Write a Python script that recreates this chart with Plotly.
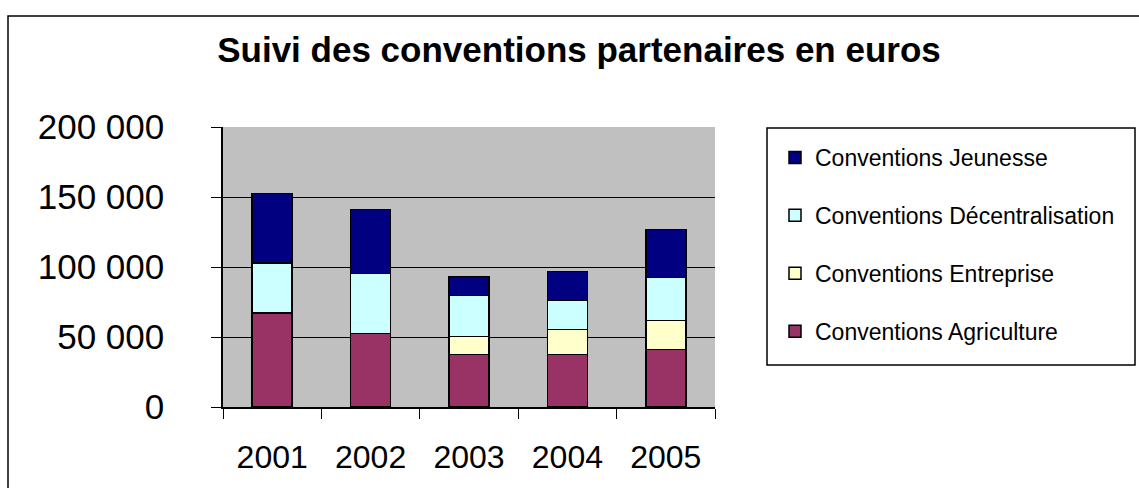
import plotly.graph_objects as go

years = ["2001", "2002", "2003", "2004", "2005"]
agriculture = [67100, 52600, 37400, 37400, 41200]
entreprise = [0, 0, 12800, 18100, 20700]
decentralisation = [35800, 42600, 29600, 20500, 30500]
jeunesse = [49500, 45800, 13500, 20700, 34300]
y_ticks = [0, 50000, 100000, 150000, 200000]
y_tick_labels = ["0", "50 000", "100 000", "150 000", "200 000"]

W, H = 1139, 488
L, R, T, B = 223, 1139 - 715, 127, 488 - 407
PW, PH = W - L - R, H - T - B

def px(x):
    return (x - L) / PW

def py(y):
    return (H - B - y) / PH

FONT = "Liberation Sans, Arial, sans-serif"
series = [
    ("Conventions Agriculture", agriculture, "#993366", 4),
    ("Conventions Entreprise", entreprise, "#FFFFCC", 3),
    ("Conventions Décentralisation", decentralisation, "#CCFFFF", 2),
    ("Conventions Jeunesse", jeunesse, "#000080", 1),
]

fig = go.Figure()
for name, vals, col, rank in series:
    fig.add_trace(go.Bar(
        x=years, y=vals, name=name, legendgroup=name, legendrank=rank,
        marker=dict(color=col, line=dict(color="black", width=1.5)),
    ))

fig.update_layout(
    width=W, height=H,
    barmode="stack", bargap=0.593,
    margin=dict(l=L, r=R, t=T, b=B),
    paper_bgcolor="white", plot_bgcolor="#C0C0C0",
    font=dict(family=FONT, color="black"),
    title=dict(text="<b>Suivi des conventions partenaires en euros</b>",
               x=579 / W, xanchor="center", xref="container",
               y=1 - 50 / H, yanchor="middle", yref="container",
               font=dict(size=35, family=FONT, color="black")),
    showlegend=True,
    legend=dict(
        traceorder="grouped", tracegroupgap=25,
        x=px(775), xanchor="left", y=py(136), yanchor="top",
        bgcolor="rgba(0,0,0,0)", borderwidth=0,
        font=dict(size=23, family=FONT, color="black"),
    ),
    xaxis=dict(
        showline=True, linecolor="black", linewidth=1.5,
        ticks="outside", tickson="boundaries", ticklen=10, tickcolor="black", tickwidth=1,
        tickfont=dict(size=32, family=FONT), ticklabelstandoff=21,
        showgrid=False, fixedrange=True,
    ),
    yaxis=dict(
        range=[0, 200000], tickvals=y_ticks, ticktext=y_tick_labels,
        showline=True, linecolor="black", linewidth=1.5,
        ticks="outside", ticklen=10, tickcolor="black", tickwidth=1,
        tickfont=dict(size=35, family=FONT), ticklabelstandoff=40,
        showgrid=True, gridcolor="black", gridwidth=1, zeroline=False,
    ),
    shapes=[
        dict(type="rect", xref="paper", yref="paper",
             x0=px(8), x1=px(1160), y0=py(16), y1=py(520),
             line=dict(color="black", width=1.5), fillcolor="rgba(0,0,0,0)", layer="below"),
        dict(type="rect", xref="paper", yref="paper",
             x0=px(767), x1=px(1135), y0=py(128), y1=py(365),
             line=dict(color="black", width=1.5), fillcolor="rgba(0,0,0,0)", layer="below"),
    ],
)

fig.write_html("out.html")
